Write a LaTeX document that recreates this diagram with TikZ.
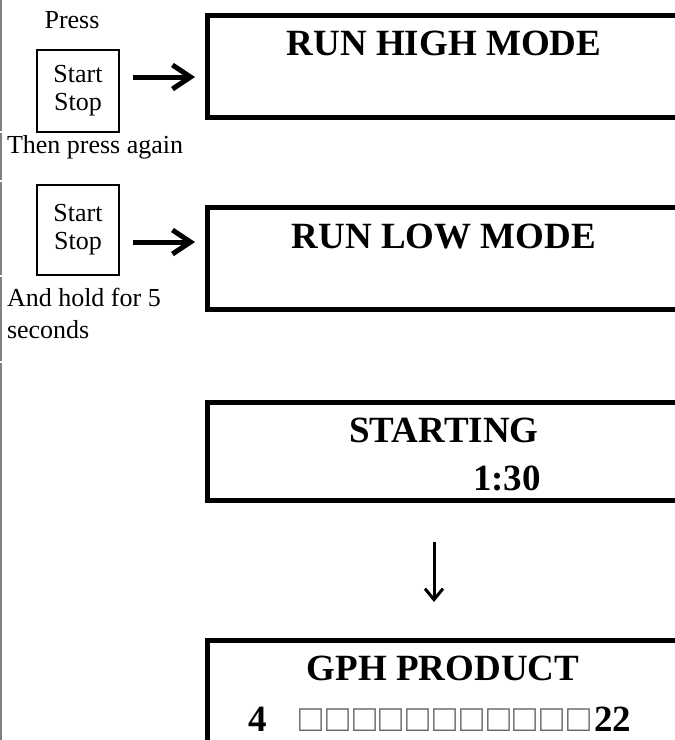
\documentclass[tikz,border=0pt]{standalone}
\usepackage{fontspec}
\setmainfont{Liberation Serif}
\usetikzlibrary{arrows.meta}
\newcommand{\plaintext}{\fontsize{26}{28}\selectfont}
\newcommand{\heavytext}{\fontsize{37}{40}\selectfont\bfseries}
\newcommand{\boxtext}{\fontsize{38}{40}\selectfont}

\begin{document}
\begin{tikzpicture}[x=1pt,y=-1pt,
    every node/.style={inner sep=0pt, outer sep=0pt},
    key/.style={draw, line width=1.6pt, minimum width=82pt, align=center, font=\plaintext},
    disp/.style={draw, line width=5pt, minimum width=520pt, minimum height=102pt, anchor=north west},
    note/.style={font=\plaintext, anchor=base west},
    big/.style={font=\heavytext, anchor=base},
    sq/.style={font=\boxtext, text=black!60, anchor=base},
    fat/.style={line width=5pt, -{Straight Barb[length=18pt,width=24pt]}},
    slim/.style={line width=3pt, -{Straight Barb[length=11pt,width=18pt]}}]
    \useasboundingbox (0,0) rectangle (675,740);
    \clip (0,0) rectangle (675,740);
    % page edge
    \foreach \ya/\yb in {0/131,133/180,182/275,277/361,363/740}
        \draw[gray, line width=2pt] (1,\ya) -- (1,\yb);

    % left column
    \node[note, anchor=base] (press) at (72,28) {Press};
    \node[key, minimum height=82pt] (key1) at (78,91) {Start\\Stop};
    \node[note] (again) at (7,153) {Then press again};
    \node[key, minimum height=90pt] (key2) at (78,230) {Start\\Stop};
    \node[note] (hold) at (7,306) {And hold for 5};
    \node[note] (secs) at (7,338) {seconds};

    % displays
    \node[disp] (high) at (207.5,15.5) {};
    \node[disp] (low) at (207.5,207.5) {};
    \node[disp, minimum height=98pt] (start) at (207.5,402.5) {};
    \node[disp] (gph) at (207.5,640) {};

    \node[big] (highT) at (444,55) {RUN HIGH MODE};
    \node[big] (lowT) at (444,248) {RUN LOW MODE};
    \node[big] (startT) at (444,442) {STARTING};
    \node[big, anchor=base west] (timeT) at (473,490) {1:30};
    \node[big] (gphT) at (443,680) {GPH PRODUCT};
    \node[big, anchor=base west] (lo) at (248,731) {4};
    \foreach \i in {1,...,11}
        \node[sq] (sq\i) at ({311+26.8*(\i-1)},731) {□};
    \node[big, anchor=base west] (hi) at (594,731) {22};

    % arrows
    \coordinate (a1) at (133,77);
    \coordinate (a2) at (133,242);
    \coordinate (d1) at (434,0);
    \draw[fat, shorten >=12.5pt] (a1) -- (a1 -| high.west);
    \draw[fat, shorten >=12.5pt] (a2) -- (a2 -| low.west);
    \draw[slim, shorten <=41.5pt, shorten >=38pt] (d1 |- start.south) -- (d1 |- gph.north);
\end{tikzpicture}
\end{document}
